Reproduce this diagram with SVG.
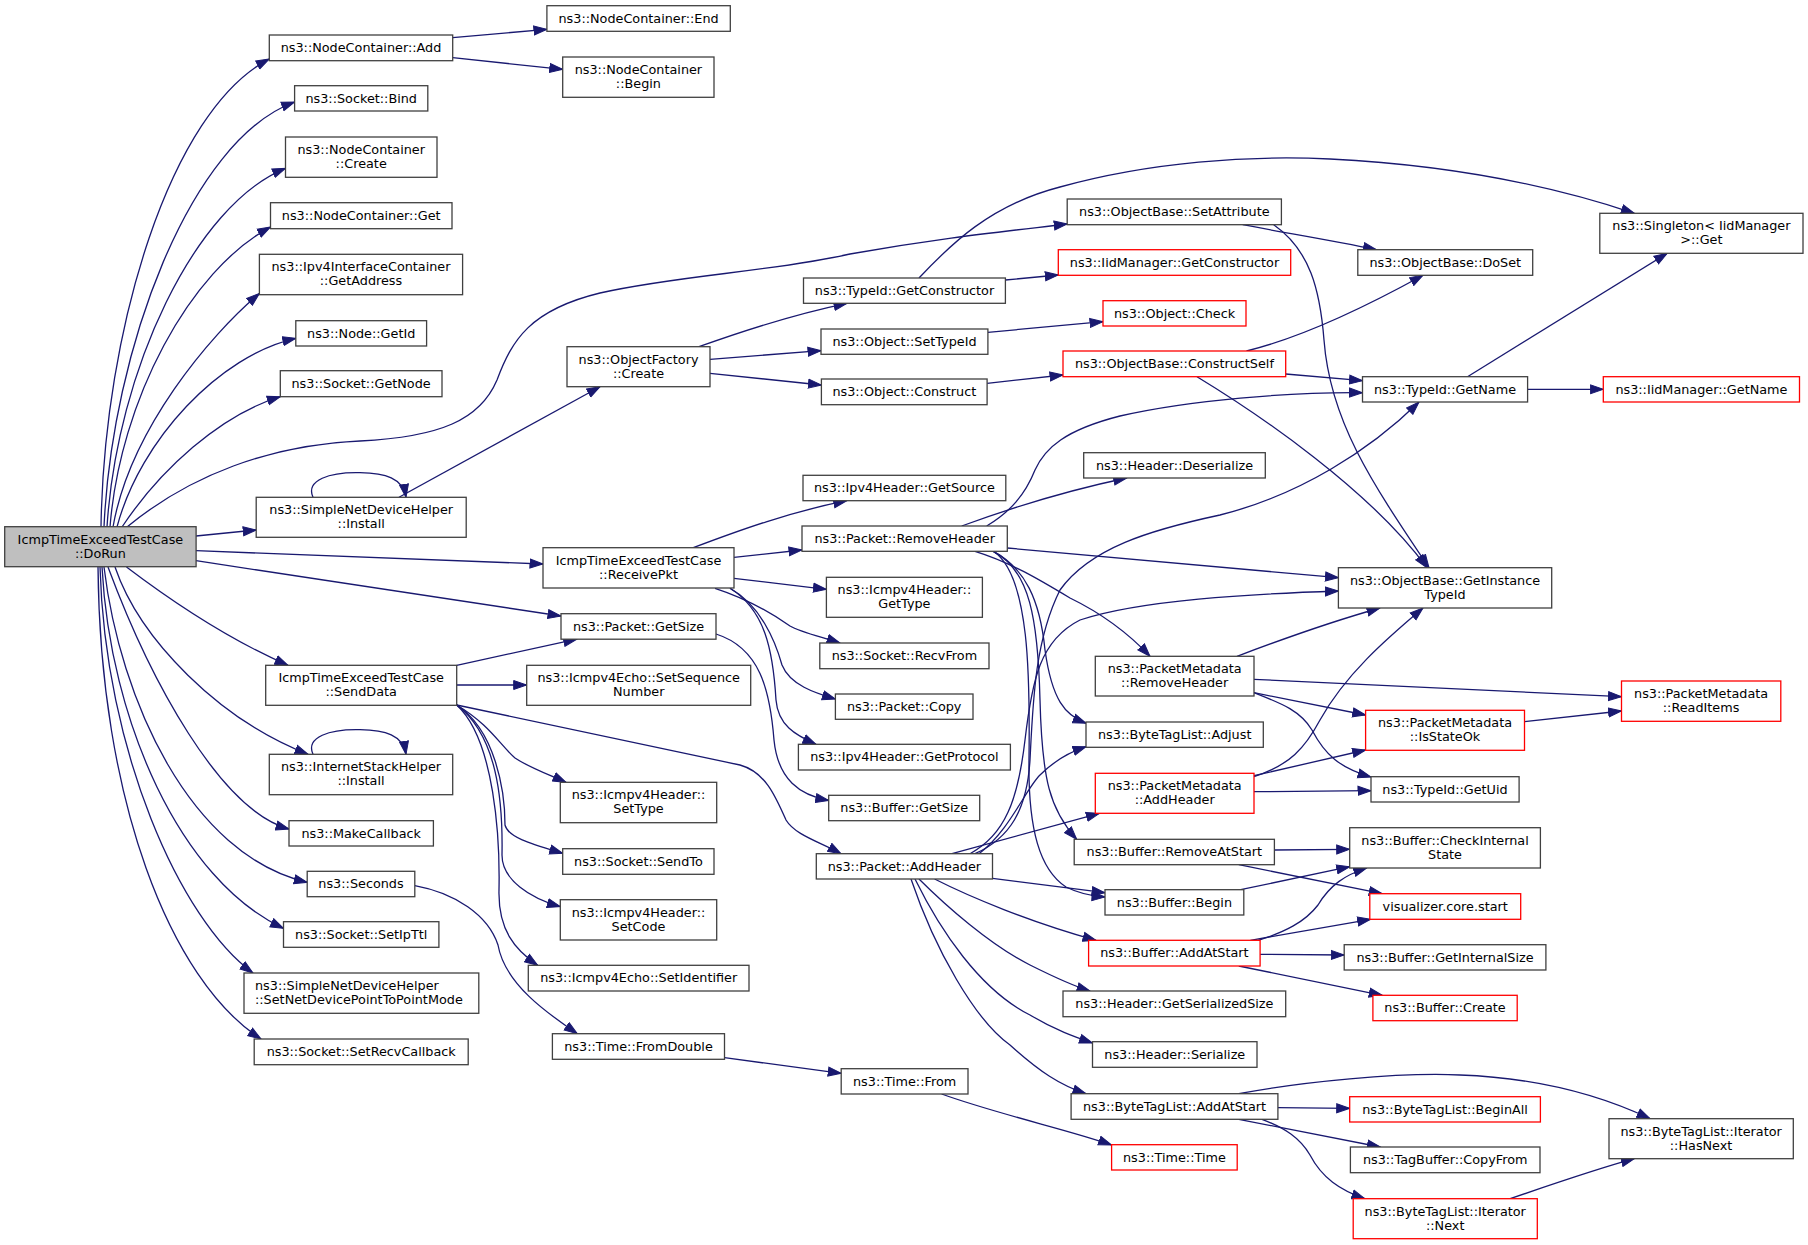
<svg xmlns="http://www.w3.org/2000/svg" width="1808" height="1245" viewBox="0 0 1808 1245">
<defs>
<style>
.node rect{fill:#ffffff;stroke:#404040;stroke-width:1.3}
.node.red rect{stroke:#ff0000}
.node.root rect{fill:#bfbfbf}
.node text{font-family:"DejaVu Sans","Liberation Sans",sans-serif;font-size:12.8px;fill:#000000;text-anchor:middle}
.node text.l{text-anchor:start}
#edges path{fill:none;stroke:#191970;stroke-width:1.3;marker-end:url(#arr)}
</style>
<marker id="arr" markerUnits="userSpaceOnUse" markerWidth="15" markerHeight="11" viewBox="0 0 15 11" refX="13.5" refY="5.5" orient="auto">
<path d="M0.5,1 L13.5,5.5 L0.5,10 z" fill="#191970" stroke="#191970" stroke-width="1"/>
</marker>
</defs>
<rect x="0" y="0" width="1808" height="1245" fill="#ffffff"/>
<g id="edges">
<path d="M101,527 C104,330 170,110 269.3,59"/>
<path d="M104,527 C112,350 190,140 294.6,102"/>
<path d="M107,527 C117,370 195,205 285.5,168.3"/>
<path d="M110,527 C120,400 190,270 270.5,227"/>
<path d="M113,527 C130,430 210,335 259.4,293.5"/>
<path d="M117,527 C140,440 220,355 295.8,338.3"/>
<path d="M122,527 C160,470 220,415 280.3,396.7"/>
<path d="M127,527 C190,475 270,445 360,441 C440,437 480,420 497,380 C512,340 530,310 600,293 C680,275 770,272 850,254 C940,238 1000,232 1067.2,224"/>
<path d="M196,536 L256.2,530"/>
<path d="M196,550.7 L543,564"/>
<path d="M196,560.7 L561,616"/>
<path d="M126.5,567 C170,600 230,640 288,665.3"/>
<path d="M115,567 C140,640 220,720 308,754.3"/>
<path d="M108,567 C150,680 220,810 289,829"/>
<path d="M104,567 C120,700 190,855 307.2,882.3"/>
<path d="M102,567 C110,720 180,880 283.5,928.3"/>
<path d="M100,567 C105,750 180,920 253,973"/>
<path d="M98,567 C100,800 170,980 261,1039"/>
<path d="M313,497.3 C305,480 330,472 360,472.7 C385,473 403,478 406,497.3"/>
<path d="M313,754.3 C305,737 330,729 360,729.7 C385,730 403,735 406,754.3"/>
<path d="M399,497.3 L600,386.7"/>
<path d="M452.7,37.7 L546.9,29.3"/>
<path d="M452.7,57.7 L562.7,69.3"/>
<path d="M699,346.7 C740,332 790,315 847,303.3"/>
<path d="M710,359.3 L821,350.7"/>
<path d="M710,373.3 L821.4,385"/>
<path d="M1005.4,280 L1058.3,275"/>
<path d="M919,278 C950,245 990,205 1060,187 C1150,162 1250,155 1330,159 C1450,165 1550,185 1634.3,213.3"/>
<path d="M987.9,332.3 L1103,321.7"/>
<path d="M987.1,383.3 L1063,375"/>
<path d="M1242.7,224.7 C1280,232 1330,240 1376.4,249.7"/>
<path d="M1273.7,224.7 C1310,250 1320,290 1324,340 C1330,420 1370,480 1429,567.7"/>
<path d="M1246.5,351 C1300,338 1360,310 1423,275.3"/>
<path d="M1285.7,374 L1362.5,380.7"/>
<path d="M1197,376.7 C1260,415 1370,490 1427,567.7"/>
<path d="M1467.5,376.7 L1667.2,253.3"/>
<path d="M1527.6,389.3 L1603.3,389.3"/>
<path d="M693.3,547.7 C740,530 790,512 846.7,500.7"/>
<path d="M734,557.3 L802,550"/>
<path d="M734,578.3 L826.4,589.3"/>
<path d="M715,588.3 C745,598 770,612 790,626 C800,632 822,637 840,643"/>
<path d="M730,588.3 C760,605 775,640 782,665 C790,685 815,693 835.4,699"/>
<path d="M730,588.3 C765,610 773,650 776,700 C778,725 795,735 816,744.3"/>
<path d="M716,634 C760,648 770,690 774,740 C778,780 800,795 828.7,800.5"/>
<path d="M456.7,665.3 L576.7,639.2"/>
<path d="M456.7,685 L526.7,685"/>
<path d="M456.7,705 L740,765 C765,772 775,795 786,820 C795,835 820,842 841,853.7"/>
<path d="M456.7,705 C490,725 500,745 515,758 C530,768 550,775 566,782.3"/>
<path d="M456.7,705 C495,730 505,790 505,825 C508,838 535,845 562.7,853.3"/>
<path d="M456.7,705 C497,735 503,800 502,855 C502,880 530,898 560.3,906.7"/>
<path d="M456.7,705 C495,740 500,840 499,890 C498,930 515,950 537.7,965.3"/>
<path d="M414.8,885.7 C455,893 488,915 498,945 C505,985 550,1015 577.3,1033.7"/>
<path d="M724.5,1057.7 L841.2,1073.3"/>
<path d="M941.6,1094 C1000,1115 1070,1130 1111.6,1145"/>
<path d="M986.7,526 C1010,512 1025,495 1035,470 C1045,448 1065,430 1120,416 C1190,400 1290,392 1362.5,392.7"/>
<path d="M961.7,526 C1000,512 1060,492 1126.7,478"/>
<path d="M1007.3,548 L1338.4,577.7"/>
<path d="M975,551.3 C1010,562 1040,580 1070,598 C1105,615 1130,635 1150,656.3"/>
<path d="M993.3,551.3 C1025,568 1040,600 1045,650 C1052,700 1065,715 1086,723.3"/>
<path d="M993.3,551.3 C1030,570 1038,620 1040,700 C1042,780 1050,810 1076.7,839.3"/>
<path d="M993.3,551.3 C1030,575 1030,680 1029,760 C1028,830 1040,870 1066,887 C1078,893 1090,896 1105,897"/>
<path d="M975,853.7 C1010,838 1027,810 1030,760 C1033,700 1035,640 1060,590 C1090,548 1150,530 1220,515 C1300,495 1370,450 1419,402"/>
<path d="M970,853.7 C1005,835 1018,800 1025,740 C1032,680 1040,640 1080,620 C1140,600 1250,594 1338.4,591"/>
<path d="M979,853.7 C1010,830 1025,790 1040,775 C1055,760 1070,752 1086,746.7"/>
<path d="M952,853.7 L1099.3,813.3"/>
<path d="M992.5,878.3 L1105,892.7"/>
<path d="M934.6,879 C970,897 1030,922 1096,940.3"/>
<path d="M919,879 C945,905 990,945 1030,965 C1050,975 1070,985 1090,991"/>
<path d="M915,879 C940,930 980,990 1030,1015 C1055,1030 1075,1037 1092.5,1043"/>
<path d="M911,879 C935,950 975,1020 1010,1045 C1040,1072 1060,1085 1086,1093.7"/>
<path d="M1237,656.3 C1280,640 1330,622 1380,608"/>
<path d="M1254,679.3 L1621.5,696.7"/>
<path d="M1254,692.7 L1365.6,715"/>
<path d="M1254,692.7 C1280,703 1300,710 1312,730 C1325,755 1340,768 1371,777"/>
<path d="M1254,776.7 C1290,765 1305,748 1320,720 C1345,675 1385,640 1423,608"/>
<path d="M1254,775.7 L1365.6,750"/>
<path d="M1254,791.7 L1371,790.7"/>
<path d="M1524.5,721.7 L1621.5,711"/>
<path d="M1274.4,850 L1349.7,849.3"/>
<path d="M1238.8,864.7 L1382.2,893.7"/>
<path d="M1240.7,889.7 L1349.7,866.7"/>
<path d="M1258.2,940.3 C1285,932 1305,922 1318,905 C1330,885 1345,875 1366.7,868"/>
<path d="M1250.4,940.3 L1370.6,919.3"/>
<path d="M1260.1,954.3 L1344.2,955"/>
<path d="M1238.8,966 L1382.2,995.3"/>
<path d="M1238.8,1093.7 C1300,1082 1400,1072 1460,1075 C1540,1078 1600,1095 1650,1118.7"/>
<path d="M1277.9,1107.7 L1349.7,1108.3"/>
<path d="M1238.8,1119.3 L1380.3,1147"/>
<path d="M1262,1119.3 C1285,1128 1300,1138 1310,1155 C1322,1178 1340,1190 1364.8,1198.7"/>
<path d="M1510.2,1198.7 C1550,1185 1600,1168 1634.3,1158.7"/>
</g>
<g id="n1" class="node root"><rect x="4.7" y="526.7" width="191.4" height="40"/><text x="100.4" y="543.5">IcmpTimeExceedTestCase</text><text x="100.4" y="557.5">::DoRun</text></g>
<g id="n2" class="node"><rect x="269.3" y="35" width="183.4" height="25.7"/><text x="361" y="52.1">ns3::NodeContainer::Add</text></g>
<g id="n3" class="node"><rect x="294.6" y="85.7" width="133.2" height="25.3"/><text x="361.2" y="102.6">ns3::Socket::Bind</text></g>
<g id="n4" class="node"><rect x="285.5" y="137" width="151.5" height="40.3"/><text x="361.2" y="153.9">ns3::NodeContainer</text><text x="361.2" y="167.9">::Create</text></g>
<g id="n5" class="node"><rect x="270.5" y="202.7" width="181.5" height="26"/><text x="361.2" y="219.9">ns3::NodeContainer::Get</text></g>
<g id="n6" class="node"><rect x="259.4" y="254.3" width="203.2" height="40.4"/><text x="361" y="271.3">ns3::Ipv4InterfaceContainer</text><text x="361" y="285.3">::GetAddress</text></g>
<g id="n7" class="node"><rect x="295.8" y="320.7" width="130.8" height="25.3"/><text x="361.2" y="337.5">ns3::Node::GetId</text></g>
<g id="n8" class="node"><rect x="280.3" y="370.7" width="161.7" height="26"/><text x="361.1" y="387.9">ns3::Socket::GetNode</text></g>
<g id="n9" class="node"><rect x="256.2" y="497.3" width="210" height="40"/><text x="361.2" y="514.1">ns3::SimpleNetDeviceHelper</text><text x="361.2" y="528.1">::Install</text></g>
<g id="n10" class="node"><rect x="265.7" y="665.3" width="191" height="40"/><text x="361.2" y="682.1">IcmpTimeExceedTestCase</text><text x="361.2" y="696.1">::SendData</text></g>
<g id="n11" class="node"><rect x="269.3" y="754.3" width="183.4" height="40.4"/><text x="361" y="771.3">ns3::InternetStackHelper</text><text x="361" y="785.3">::Install</text></g>
<g id="n12" class="node"><rect x="289" y="820.7" width="144.4" height="25.3"/><text x="361.2" y="837.5">ns3::MakeCallback</text></g>
<g id="n13" class="node"><rect x="307.2" y="871.3" width="107.6" height="25.4"/><text x="361" y="888.2">ns3::Seconds</text></g>
<g id="n14" class="node"><rect x="283.5" y="921.7" width="155.4" height="25.6"/><text x="361.2" y="938.7">ns3::Socket::SetIpTtl</text></g>
<g id="n15" class="node"><rect x="244" y="973" width="234.8" height="40.3"/><text class="l" x="255" y="989.9">ns3::SimpleNetDeviceHelper</text><text class="l" x="255" y="1003.9">::SetNetDevicePointToPointMode</text></g>
<g id="n16" class="node"><rect x="254.2" y="1039" width="214" height="25.7"/><text x="361.2" y="1056">ns3::Socket::SetRecvCallback</text></g>
<g id="n17" class="node"><rect x="546.9" y="5.7" width="183.4" height="25.6"/><text x="638.6" y="22.7">ns3::NodeContainer::End</text></g>
<g id="n18" class="node"><rect x="562.7" y="57" width="151.3" height="40.3"/><text x="638.4" y="73.9">ns3::NodeContainer</text><text x="638.4" y="87.9">::Begin</text></g>
<g id="n19" class="node"><rect x="567" y="346.7" width="143" height="40"/><text x="638.5" y="363.5">ns3::ObjectFactory</text><text x="638.5" y="377.5">::Create</text></g>
<g id="n20" class="node"><rect x="543" y="547.7" width="191" height="40.3"/><text x="638.5" y="564.6">IcmpTimeExceedTestCase</text><text x="638.5" y="578.6">::ReceivePkt</text></g>
<g id="n21" class="node"><rect x="561" y="613.7" width="155" height="25.5"/><text x="638.5" y="630.6">ns3::Packet::GetSize</text></g>
<g id="n22" class="node"><rect x="526.7" y="665.3" width="224" height="40"/><text x="638.7" y="682.1">ns3::Icmpv4Echo::SetSequence</text><text x="638.7" y="696.1">Number</text></g>
<g id="n23" class="node"><rect x="560.3" y="782.3" width="156.4" height="40.4"/><text x="638.5" y="799.3">ns3::Icmpv4Header::</text><text x="638.5" y="813.3">SetType</text></g>
<g id="n24" class="node"><rect x="562.7" y="848.7" width="151.3" height="25.6"/><text x="638.4" y="865.7">ns3::Socket::SendTo</text></g>
<g id="n25" class="node"><rect x="560.3" y="899.7" width="156.4" height="40.3"/><text x="638.5" y="916.6">ns3::Icmpv4Header::</text><text x="638.5" y="930.6">SetCode</text></g>
<g id="n26" class="node"><rect x="528.3" y="965.3" width="220.7" height="25.7"/><text x="638.7" y="982.4">ns3::Icmpv4Echo::SetIdentifier</text></g>
<g id="n27" class="node"><rect x="552.4" y="1033.7" width="172.1" height="25.6"/><text x="638.5" y="1050.7">ns3::Time::FromDouble</text></g>
<g id="n28" class="node"><rect x="803.5" y="278" width="201.9" height="25.3"/><text x="904.5" y="294.8">ns3::TypeId::GetConstructor</text></g>
<g id="n29" class="node"><rect x="821" y="329" width="166.9" height="25.3"/><text x="904.5" y="345.9">ns3::Object::SetTypeId</text></g>
<g id="n30" class="node"><rect x="821.4" y="379" width="165.7" height="25.7"/><text x="904.3" y="396">ns3::Object::Construct</text></g>
<g id="n31" class="node"><rect x="803" y="475.3" width="202.8" height="25.4"/><text x="904.4" y="492.2">ns3::Ipv4Header::GetSource</text></g>
<g id="n32" class="node"><rect x="802" y="526" width="205.3" height="25.3"/><text x="904.7" y="542.8">ns3::Packet::RemoveHeader</text></g>
<g id="n33" class="node"><rect x="826.4" y="577.3" width="156" height="40"/><text x="904.4" y="594.1">ns3::Icmpv4Header::</text><text x="904.4" y="608.1">GetType</text></g>
<g id="n34" class="node"><rect x="819.8" y="643" width="169.2" height="25.7"/><text x="904.4" y="660">ns3::Socket::RecvFrom</text></g>
<g id="n35" class="node"><rect x="835.4" y="694" width="137.6" height="25.3"/><text x="904.2" y="710.8">ns3::Packet::Copy</text></g>
<g id="n36" class="node"><rect x="798.4" y="744.3" width="212" height="25.7"/><text x="904.4" y="761.3">ns3::Ipv4Header::GetProtocol</text></g>
<g id="n37" class="node"><rect x="828.7" y="795.3" width="151" height="25.4"/><text x="904.2" y="812.2">ns3::Buffer::GetSize</text></g>
<g id="n38" class="node"><rect x="816.3" y="853.7" width="176.2" height="25.3"/><text x="904.4" y="870.5">ns3::Packet::AddHeader</text></g>
<g id="n39" class="node"><rect x="841.2" y="1068.7" width="126.8" height="25.3"/><text x="904.6" y="1085.5">ns3::Time::From</text></g>
<g id="n40" class="node"><rect x="1067.2" y="199" width="214.2" height="25.7"/><text x="1174.3" y="216">ns3::ObjectBase::SetAttribute</text></g>
<g id="n41" class="node red"><rect x="1058.3" y="249.7" width="232.4" height="25.6"/><text x="1174.5" y="266.7">ns3::IidManager::GetConstructor</text></g>
<g id="n42" class="node red"><rect x="1103" y="300.7" width="143" height="25.3"/><text x="1174.5" y="317.5">ns3::Object::Check</text></g>
<g id="n43" class="node red"><rect x="1063" y="351" width="222.7" height="25.7"/><text x="1174.4" y="368">ns3::ObjectBase::ConstructSelf</text></g>
<g id="n44" class="node"><rect x="1083.7" y="452.7" width="181.6" height="25.3"/><text x="1174.5" y="469.5">ns3::Header::Deserialize</text></g>
<g id="n45" class="node"><rect x="1095.3" y="656.3" width="158.7" height="39.7"/><text x="1174.7" y="673">ns3::PacketMetadata</text><text x="1174.7" y="687">::RemoveHeader</text></g>
<g id="n46" class="node"><rect x="1086" y="722" width="177.3" height="25.3"/><text x="1174.7" y="738.8">ns3::ByteTagList::Adjust</text></g>
<g id="n47" class="node red"><rect x="1095.3" y="773.3" width="158.7" height="40"/><text x="1174.7" y="790.1">ns3::PacketMetadata</text><text x="1174.7" y="804.1">::AddHeader</text></g>
<g id="n48" class="node"><rect x="1074.2" y="839.3" width="200.2" height="25.4"/><text x="1174.3" y="856.2">ns3::Buffer::RemoveAtStart</text></g>
<g id="n49" class="node"><rect x="1105" y="889.7" width="138.8" height="25.3"/><text x="1174.4" y="906.5">ns3::Buffer::Begin</text></g>
<g id="n50" class="node red"><rect x="1088.6" y="940.3" width="171.5" height="25.7"/><text x="1174.4" y="957.4">ns3::Buffer::AddAtStart</text></g>
<g id="n51" class="node"><rect x="1063" y="991" width="222.7" height="25.7"/><text x="1174.4" y="1008">ns3::Header::GetSerializedSize</text></g>
<g id="n52" class="node"><rect x="1092.5" y="1041.7" width="164.5" height="25.6"/><text x="1174.8" y="1058.7">ns3::Header::Serialize</text></g>
<g id="n53" class="node"><rect x="1071.1" y="1093.7" width="206.8" height="25.6"/><text x="1174.5" y="1110.7">ns3::ByteTagList::AddAtStart</text></g>
<g id="n54" class="node red"><rect x="1111.6" y="1144.7" width="125.6" height="25.3"/><text x="1174.4" y="1161.5">ns3::Time::Time</text></g>
<g id="n55" class="node"><rect x="1357.8" y="249.7" width="174.9" height="25.6"/><text x="1445.3" y="266.7">ns3::ObjectBase::DoSet</text></g>
<g id="n56" class="node"><rect x="1362.5" y="376.7" width="165.1" height="25.3"/><text x="1445" y="393.5">ns3::TypeId::GetName</text></g>
<g id="n57" class="node"><rect x="1338.4" y="567.7" width="213.3" height="40.3"/><text x="1445" y="584.6">ns3::ObjectBase::GetInstance</text><text x="1445" y="598.6">TypeId</text></g>
<g id="n58" class="node red"><rect x="1365.6" y="710.3" width="158.9" height="40"/><text x="1445" y="727.1">ns3::PacketMetadata</text><text x="1445" y="741.1">::IsStateOk</text></g>
<g id="n59" class="node"><rect x="1371" y="776.7" width="148.1" height="25.3"/><text x="1445" y="793.5">ns3::TypeId::GetUid</text></g>
<g id="n60" class="node"><rect x="1349.7" y="827.7" width="190.7" height="40.3"/><text x="1445" y="844.6">ns3::Buffer::CheckInternal</text><text x="1445" y="858.6">State</text></g>
<g id="n61" class="node red"><rect x="1369.8" y="893.7" width="150.9" height="25.6"/><text x="1445.2" y="910.7">visualizer.core.start</text></g>
<g id="n62" class="node"><rect x="1344.2" y="944.7" width="201.7" height="25.3"/><text x="1445" y="961.5">ns3::Buffer::GetInternalSize</text></g>
<g id="n63" class="node red"><rect x="1372.9" y="995.3" width="144.3" height="25.4"/><text x="1445" y="1012.2">ns3::Buffer::Create</text></g>
<g id="n64" class="node red"><rect x="1349.7" y="1096.7" width="190.7" height="25.3"/><text x="1445" y="1113.5">ns3::ByteTagList::BeginAll</text></g>
<g id="n65" class="node"><rect x="1350.4" y="1147" width="189.6" height="25.7"/><text x="1445.2" y="1164">ns3::TagBuffer::CopyFrom</text></g>
<g id="n66" class="node red"><rect x="1353.2" y="1198.7" width="184.1" height="40"/><text x="1445.2" y="1215.5">ns3::ByteTagList::Iterator</text><text x="1445.2" y="1229.5">::Next</text></g>
<g id="n67" class="node"><rect x="1599.8" y="213.3" width="203.2" height="40"/><text x="1701.4" y="230.1">ns3::Singleton&lt; IidManager</text><text x="1701.4" y="244.1">&gt;::Get</text></g>
<g id="n68" class="node red"><rect x="1603.3" y="376.7" width="196.2" height="25.3"/><text x="1701.4" y="393.5">ns3::IidManager::GetName</text></g>
<g id="n69" class="node red"><rect x="1621.5" y="681" width="159.3" height="40.3"/><text x="1701.1" y="697.9">ns3::PacketMetadata</text><text x="1701.1" y="711.9">::ReadItems</text></g>
<g id="n70" class="node"><rect x="1609" y="1118.7" width="184.3" height="40"/><text x="1701.1" y="1135.5">ns3::ByteTagList::Iterator</text><text x="1701.1" y="1149.5">::HasNext</text></g>
</svg>
